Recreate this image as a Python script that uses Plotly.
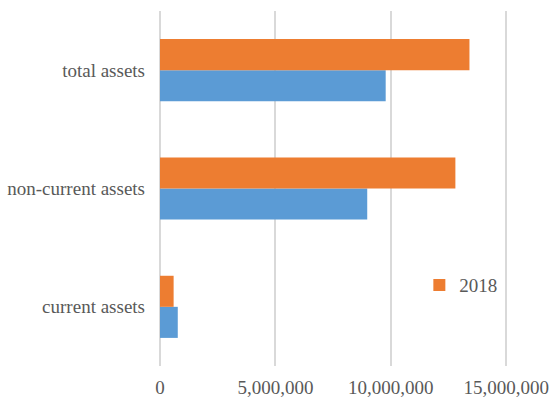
import plotly.graph_objects as go

categories = ["current assets", "non-current assets", "total assets"]
values_prev = [770000, 8980000, 9780000]
values_2018 = [590000, 12800000, 13410000]
series_2018_name = "2018"
tick_vals = [0, 5000000, 10000000, 15000000]
tick_text = ["0", "5,000,000", "10,000,000", "15,000,000"]

fig = go.Figure()
fig.add_trace(go.Bar(y=categories, x=values_prev, orientation="h",
                     marker=dict(color="#5B9BD5", line=dict(width=0)),
                     showlegend=False, name=""))
fig.add_trace(go.Bar(y=categories, x=values_2018, orientation="h",
                     marker=dict(color="#ED7D31", line=dict(width=0)),
                     name=series_2018_name))

font = dict(family="Liberation Serif, Times New Roman, serif", size=19, color="#595959")
fig.update_layout(
    width=550, height=398,
    margin=dict(l=160, r=0, t=11, b=32),
    paper_bgcolor="white", plot_bgcolor="white",
    barmode="group", bargap=0.475, bargroupgap=0,
    font=font,
    showlegend=True,
    legend=dict(x=0.665, y=0.228, xanchor="left", yanchor="middle",
                bgcolor="rgba(0,0,0,0)", font=font, itemwidth=30),
    xaxis=dict(range=[0, 16.9e6], tickvals=tick_vals, ticktext=tick_text,
               showgrid=True, gridcolor="#D9D9D9", gridwidth=1.5,
               zeroline=True, zerolinecolor="#D9D9D9", zerolinewidth=1.5,
               showline=False, ticks="", ticklabelstandoff=8, automargin=False,
               tickfont=font),
    yaxis=dict(showgrid=False, zeroline=False, showline=False,
               ticks="", ticklabelstandoff=14, automargin=False,
               tickfont=font),
)

fig.write_html("out.html", config={"displayModeBar": False},
               post_script="document.body.style.margin='0';")
